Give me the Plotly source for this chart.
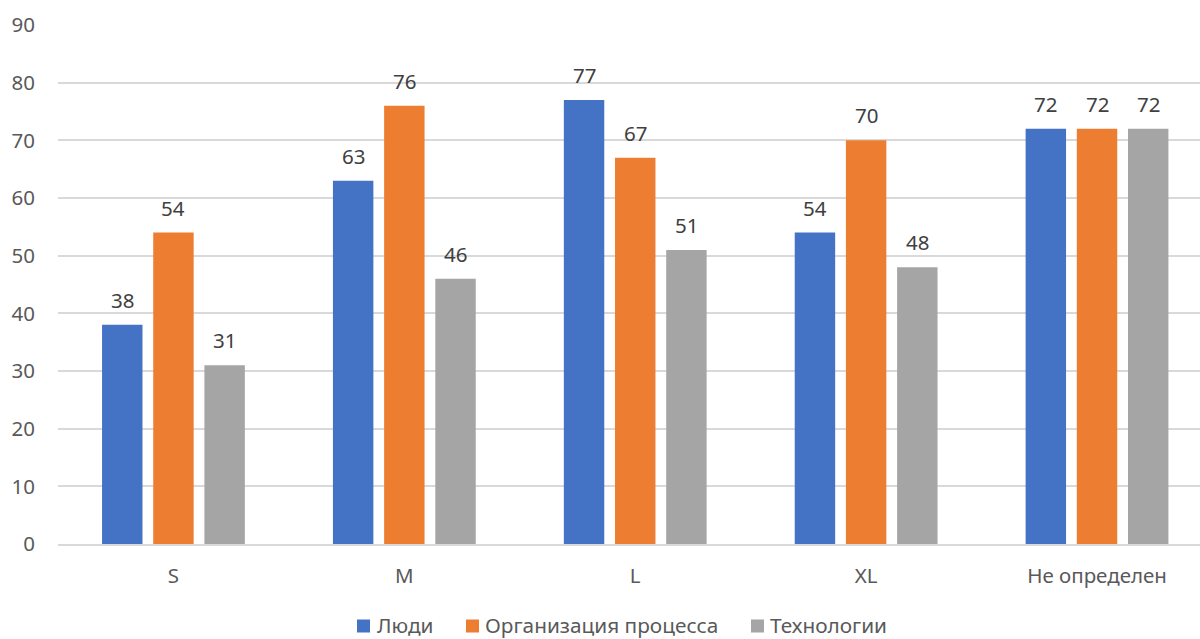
import plotly.graph_objects as go

categories = ["S", "M", "L", "XL", "Не определен"]
series_names = ["Люди", "Организация процесса", "Технологии"]
people = [38, 63, 77, 54, 72]
process = [54, 76, 67, 70, 72]
technology = [31, 46, 51, 48, 72]
colors = ["#4472C4", "#ED7D31", "#A5A5A5"]
y_ticks = list(range(0, 91, 10))

FONT = "Noto Sans"
series_values = [people, process, technology]

# plot area geometry in pixels
W, H = 1200, 639
M_L, M_R, M_T, M_B = 58, 0, 25, 95
PLOT_W = W - M_L - M_R
PLOT_H = H - M_T - M_B

fig = go.Figure()
for name, vals, col in zip(series_names, series_values, colors):
    fig.add_trace(go.Bar(
        name=name, x=list(range(len(categories))), y=vals,
        marker=dict(color=col, line=dict(width=0)),
    ))

bargap = 0.335
slot = (1 - bargap) / len(series_values)
annotations = []
for i, vals in enumerate(series_values):
    offset = (i - (len(series_values) - 1) / 2) * slot
    for j, v in enumerate(vals):
        annotations.append(dict(
            x=j + offset, y=v, xref="x", yref="y", text=str(v),
            showarrow=False, yanchor="bottom", yshift=9,
            font=dict(family=FONT, size=20.5, color="#404040"),
        ))

# legend row drawn below the axis: swatch left edges and label starts (px)
legend_swatch_x = [357, 466, 751]
legend_text_x = [376, 484, 769]
legend_center_y = 625
swatch = 13


def px_to_paper_x(px):
    return (px - M_L) / PLOT_W


def px_to_paper_y(py):
    return (H - M_B - py) / PLOT_H


shapes = []
for name, col, sx, tx in zip(series_names, colors, legend_swatch_x, legend_text_x):
    shapes.append(dict(
        type="rect", xref="paper", yref="paper",
        xsizemode="pixel", ysizemode="pixel",
        xanchor=px_to_paper_x(sx), yanchor=px_to_paper_y(legend_center_y + 1),
        x0=0, x1=swatch, y0=-swatch / 2, y1=swatch / 2,
        fillcolor=col, line=dict(width=0),
    ))
    annotations.append(dict(
        x=px_to_paper_x(tx), y=px_to_paper_y(legend_center_y),
        xref="paper", yref="paper", xanchor="left", yanchor="middle",
        text=name, showarrow=False, borderpad=0,
        font=dict(family=FONT, size=20.8, color="#595959"),
    ))

fig.update_layout(
    width=W, height=H,
    margin=dict(l=M_L, r=M_R, t=M_T, b=M_B),
    paper_bgcolor="white", plot_bgcolor="white",
    barmode="group", bargap=bargap, bargroupgap=0.21,
    font=dict(family=FONT, size=20.5, color="#595959"),
    annotations=annotations, shapes=shapes,
    showlegend=False,
    xaxis=dict(
        range=[-0.5, 4.446], tickmode="array",
        tickvals=list(range(len(categories))), ticktext=categories,
        showgrid=False, zeroline=False, showline=True, linecolor="#D9D9D9",
        linewidth=1.5, ticks="", tickfont=dict(size=20.5, color="#595959"),
        ticklabelstandoff=13,
    ),
    yaxis=dict(
        range=[0, 90], tickvals=y_ticks,
        showgrid=True, gridcolor="#D9D9D9",
        gridwidth=1.5, zeroline=False, showline=False, ticks="",
        tickfont=dict(size=20.5, color="#595959"), ticklabelstandoff=22,
    ),
)

fig.write_html("out.html")
